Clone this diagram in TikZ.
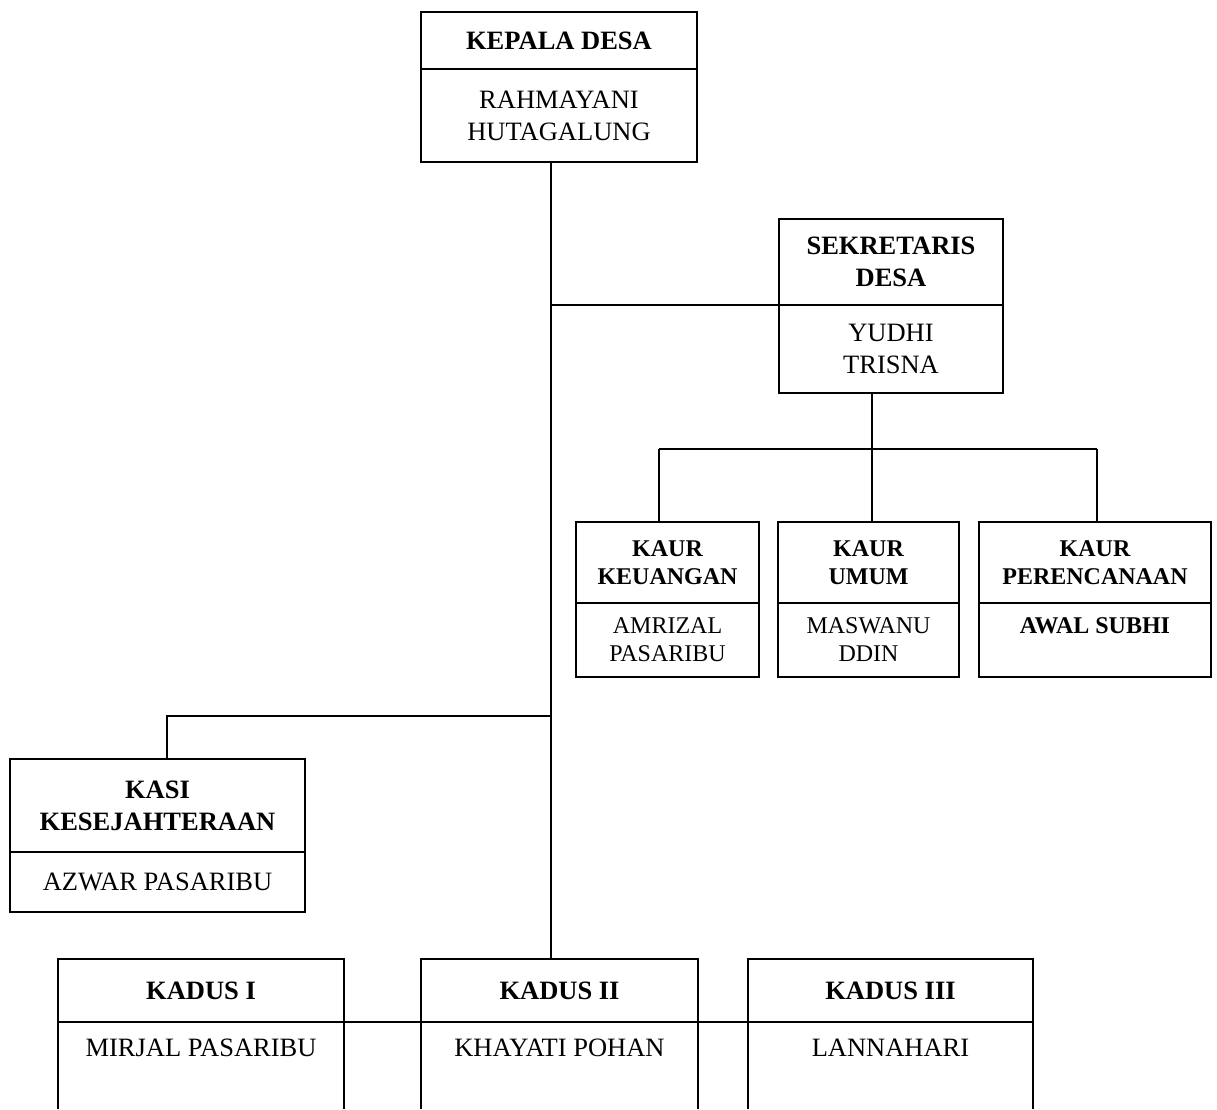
\documentclass[tikz,border=0pt]{standalone}
\usepackage{fontspec}
\setmainfont{Liberation Serif}
\tikzset{hd/.style = {rectangle, draw, line width=1.8pt, outer sep=0pt, inner sep=0pt, anchor=north west, align=center, font=\fontsize{26.5}{32}\selectfont\bfseries},
           nm/.style = {rectangle, draw, line width=1.8pt, outer sep=0pt, inner sep=0pt, anchor=north west, align=center, font=\fontsize{26.5}{32}\selectfont},
           sh/.style = {hd, font=\fontsize{24}{28}\selectfont\bfseries},
           sn/.style = {nm, font=\fontsize{24}{28}\selectfont},
           ln/.style = {line width=1.8pt}}

\begin{document}
\begin{tikzpicture}[x=1pt, y=-1pt]
    \useasboundingbox (0,0) rectangle (1217,1109);
    \node[hd, minimum width=276pt, minimum height=57pt] (kh) at (421,12) {KEPALA DESA};
    \node[nm, minimum width=276pt, minimum height=93pt] (kn) at (kh.south west) {RAHMAYANI\\HUTAGALUNG};
    \node[hd, minimum width=224pt, minimum height=86pt] (sh) at (779,219) {SEKRETARIS\\DESA};
    \node[nm, minimum width=224pt, minimum height=88pt] (sn) at (sh.south west) {YUDHI\\TRISNA};
    \node[sh, minimum width=183pt, minimum height=81pt] (uh1) at (576,522) {KAUR\\KEUANGAN};
    \node[sn, minimum width=183pt, minimum height=74pt] (un1) at (uh1.south west) {AMRIZAL\\PASARIBU};
    \node[sh, minimum width=181pt, minimum height=81pt] (uh2) at (778,522) {KAUR\\UMUM};
    \node[sn, minimum width=181pt, minimum height=74pt] (un2) at (uh2.south west) {MASWANU\\DDIN};
    \node[sh, minimum width=232pt, minimum height=81pt] (uh3) at (979,522) {KAUR\\PERENCANAAN};
    \node[sn, font=\fontsize{24}{28}\selectfont\bfseries, minimum width=232pt, minimum height=74pt] (un3) at (uh3.south west) {AWAL SUBHI\\\mbox{}};
    \node[hd, minimum width=295pt, minimum height=93pt] (ah) at (10,759) {KASI\\KESEJAHTERAAN};
    \node[nm, minimum width=295pt, minimum height=60pt] (an) at (ah.south west) {AZWAR PASARIBU};
    \node[hd, minimum width=286pt, minimum height=63pt] (dh1) at (58,959) {KADUS I};
    \node[nm, draw=none, minimum width=286pt, minimum height=52pt] (dn1) at (dh1.south west) {MIRJAL PASARIBU};
    \node[hd, minimum width=277pt, minimum height=63pt] (dh2) at (421,959) {KADUS II};
    \node[nm, draw=none, minimum width=277pt, minimum height=52pt] (dn2) at (dh2.south west) {KHAYATI POHAN};
    \node[hd, minimum width=285pt, minimum height=63pt] (dh3) at (748,959) {KADUS III};
    \node[nm, draw=none, minimum width=285pt, minimum height=52pt] (dn3) at (dh3.south west) {LANNAHARI};
    \coordinate (j1) at (551,305);
    \coordinate (j2) at (551,716);
    \coordinate (b1) at (659,449);
    \coordinate (b2) at (872,449);
    \coordinate (b3) at (1097,449);
    \coordinate (b4) at (167,716);
    \coordinate (bot) at (0,1109);
    \draw[ln] (kn.south -| j1) -- (dh2.north -| j1);
    \draw[ln] (j1) -- (sn.north west);
    \draw[ln] (sn.south -| b2) -- (b2);
    \draw[ln] (b1) -- (b3);
    \draw[ln] (b1) -- (b1 |- uh1.north);
    \draw[ln] (b2) -- (b2 |- uh2.north);
    \draw[ln] (b3) -- (b3 |- uh3.north);
    \draw[ln] (j2) -- (b4) -- (b4 |- ah.north);
    \draw[ln] (dh1.south west) -- (dh3.south east);
    \draw[ln] (dn1.north west) -- (dn1.north west |- bot);
    \draw[ln] (dn1.north east) -- (dn1.north east |- bot);
    \draw[ln] (dn2.north west) -- (dn2.north west |- bot);
    \draw[ln] (dn2.north east) -- (dn2.north east |- bot);
    \draw[ln] (dn3.north west) -- (dn3.north west |- bot);
    \draw[ln] (dn3.north east) -- (dn3.north east |- bot);
  \end{tikzpicture}
\end{document}
